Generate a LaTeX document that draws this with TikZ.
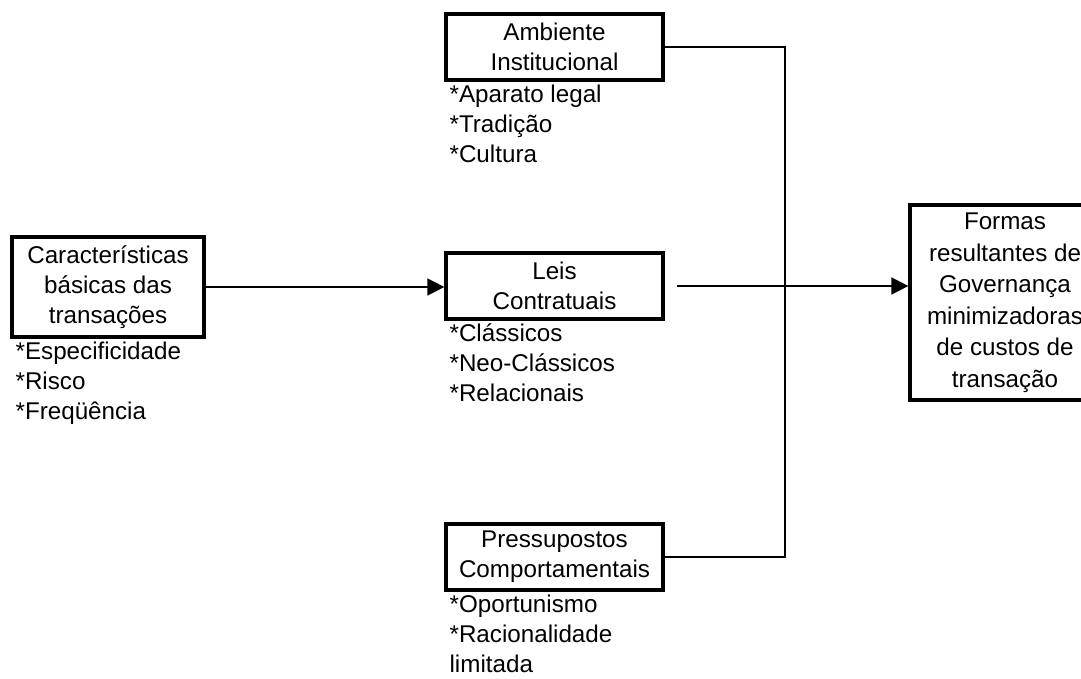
\documentclass[tikz,border=0pt]{standalone}
\usepackage{fontspec}
\setmainfont{Liberation Sans}
\usetikzlibrary{arrows.meta,positioning}

\tikzset{
	caixa/.style={draw, line width=3.2pt, align=center, inner sep=0pt, font=\fontsize{24.2}{30}\selectfont},
	lista/.style={anchor=north west, align=left, inner sep=0pt, font=\fontsize{24.2}{30}\selectfont},
	seta/.style={line width=1.4pt, -{Triangle[length=17pt,width=17pt]}},
	linha/.style={line width=1.4pt}
}

\begin{document}
\begin{tikzpicture}[x=1pt, y=-1pt]
				\useasboundingbox (0,0) rectangle (1081,679);
				\node[caixa, minimum width=192pt, minimum height=100pt] (carac) at (108,287) {Características\\básicas das\\transações};
				\node[caixa, minimum width=217pt, minimum height=66pt] (amb) at (554.5,47) {Ambiente\\Institucional};
				\node[caixa, minimum width=217pt, minimum height=66pt] (leis) at (554.5,286) {Leis\\Contratuais};
				\node[caixa, minimum width=217pt, minimum height=66pt] (pres) at (554.5,557) {Pressupostos\\Comportamentais};
				\node[caixa, minimum width=190pt, minimum height=195pt, font=\fontsize{24.2}{31.5}\selectfont] (formas) at (1005,302.5) {Formas\\resultantes de\\Governança\\minimizadoras\\de custos de\\transação};
				\node[lista] (lcarac) at ([xshift=5pt,yshift=-3pt]carac.south west) {*Especificidade\\*Risco\\*Freqüência};
				\node[lista] (lamb) at ([xshift=5pt,yshift=-3pt]amb.south west) {*Aparato legal\\*Tradição\\*Cultura};
				\node[lista] (lleis) at ([xshift=5pt,yshift=-3pt]leis.south west) {*Clássicos\\*Neo-Clássicos\\*Relacionais};
				\node[lista] (lpres) at ([xshift=5pt,yshift=-3pt]pres.south west) {*Oportunismo\\*Racionalidade\\limitada};
				\coordinate (juncao) at (785,0);
				\draw[seta] (carac.east) -- (carac.east -| leis.west);
				\draw[seta] ([xshift=12pt]leis.east) -- (leis.east -| formas.west);
				\draw[linha] (amb.east) -| (juncao |- pres.east) -- (pres.east);
			\end{tikzpicture}
\end{document}
